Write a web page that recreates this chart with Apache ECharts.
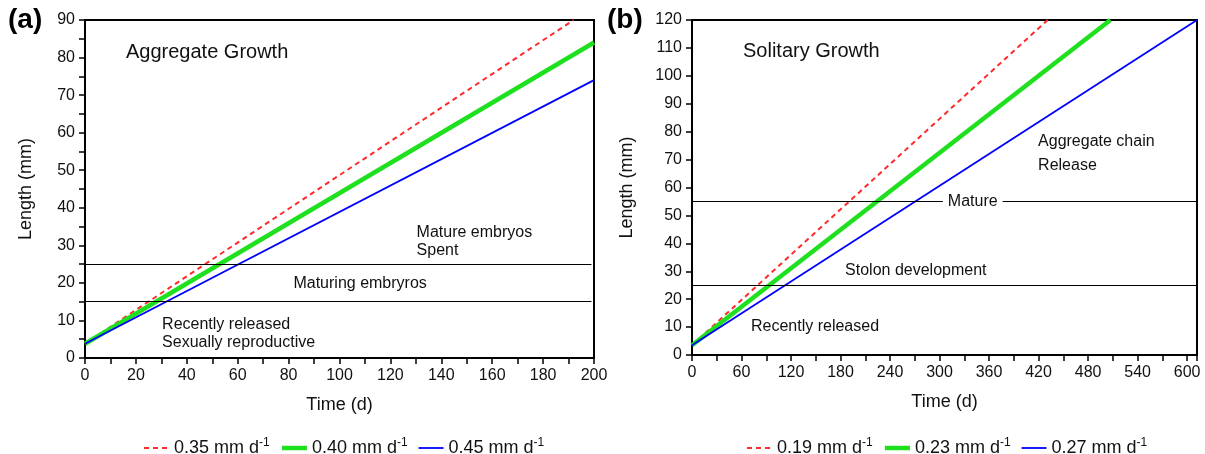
<!DOCTYPE html>
<html>
<head>
<meta charset="utf-8">
<script src="https://cdn.jsdelivr.net/npm/echarts@6/dist/echarts.min.js"></script>
<style>
html,body{margin:0;padding:0;background:#fff;}
#chart{width:1205px;height:454px;}
</style>
</head>
<body>
<div id="chart"></div>
<script>
// ---- Data ----
// Panel (a) Aggregate growth: [time (d), length (mm)]
const aggRedDashed = [[0, 3.8], [192, 90]];
const aggGreen     = [[0, 3.8], [200, 84]];
const aggBlue      = [[0, 3.8], [200, 74]];
const aggRates     = ['0.35', '0.40', '0.45'];
const aggThresholds = [15, 25];
// Panel (b) Solitary growth
const solRedDashed = [[0, 3.5], [431, 120]];
const solGreen     = [[0, 3.5], [507, 120]];
const solBlue      = [[0, 3.5], [612, 120]];
const solRates     = ['0.19', '0.23', '0.27'];
const solThresholds = [25, 55];
// Annotations: [text, x, y] in data units (left aligned, vertically centred)
const aggNotes = [
  ['Mature embryos', 130.3, 33.5],
  ['Spent', 130.3, 28.5],
  ['Maturing embryros', 81.9, 19.9],
  ['Recently released', 30.3, 8.8],
  ['Sexually reproductive', 30.3, 4.0]
];
const aggTitle = ['Aggregate Growth', 16.1, 81.4];
const solNotes = [
  ['Aggregate chain', 419.4, 76.3],
  ['Release', 419.4, 67.7],
  ['Stolon development', 185.5, 30.1],
  ['Recently released', 71.5, 10.0]
];
const solTitle = ['Solitary Growth', 61.8, 108.6];
const solMatureLabel = ['Mature', 304, 55];

const FONT = '"Liberation Sans", Arial, Helvetica, sans-serif';
const RED = '#ff2a2a', GREEN = '#1ee01e', BLUE = '#0000ff';
const STYLES = [
  {color: RED, width: 2, type: [5, 4]},
  {color: GREEN, width: 4.5, type: 'solid'},
  {color: BLUE, width: 1.8, type: 'solid'}
];

const chart = echarts.init(document.getElementById('chart'), null, {renderer: 'canvas'});

function xAxisDef(gridIndex, max, interval) {
  return {
    type: 'value', gridIndex, min: 0, max, interval,
    name: 'Time (d)', nameLocation: 'middle', nameGap: 38,
    nameTextStyle: {fontFamily: FONT, fontSize: 18, color: '#111'},
    axisLine: {show: true, onZero: false, lineStyle: {color: '#000', width: 2}},
    axisTick: {show: true, inside: false, length: 6, lineStyle: {color: '#000', width: 1.5}},
    minorTick: {show: true, splitNumber: 2, length: 6, lineStyle: {color: '#000', width: 1.5}},
    axisLabel: {fontFamily: FONT, fontSize: 16, color: '#111', margin: 10, showMaxLabel: max % interval === 0},
    splitLine: {show: false}
  };
}
function yAxisDef(gridIndex, max, interval, minor, nameGap) {
  return {
    type: 'value', gridIndex, min: 0, max, interval,
    name: 'Length (mm)', nameLocation: 'middle', nameGap,
    nameTextStyle: {fontFamily: FONT, fontSize: 18, color: '#111'},
    axisLine: {show: true, onZero: false, lineStyle: {color: '#000', width: 2}},
    axisTick: {show: true, inside: false, length: 6, lineStyle: {color: '#000', width: 1.5}},
    minorTick: {show: minor, splitNumber: 2, length: 6, lineStyle: {color: '#000', width: 1.5}},
    axisLabel: {fontFamily: FONT, fontSize: 16, color: '#111', margin: 10},
    splitLine: {show: false}
  };
}
function lineSeries(name, data, st, xi) {
  return {
    name, type: 'line', data, xAxisIndex: xi, yAxisIndex: xi,
    symbol: 'none', silent: true, animation: false, clip: true,
    lineStyle: {color: st.color, width: st.width, type: st.type},
    itemStyle: {color: st.color}
  };
}
function thresholdSeries(values, xi, xmax) {
  return {
    type: 'line', xAxisIndex: xi, yAxisIndex: xi, data: [], silent: true, animation: false,
    markLine: {
      symbol: 'none', silent: true, animation: false,
      label: {show: false},
      lineStyle: {color: '#000', width: 1, type: 'solid'},
      data: values.map(v => [{coord: [0, v]}, {coord: [xmax, v]}])
    }
  };
}
const fmtLegend = n => n + ' mm d{sup|-1}';
const legendText = {
  fontFamily: FONT, fontSize: 18, color: '#111',
  rich: {sup: {fontFamily: FONT, fontSize: 12, color: '#111', verticalAlign: 'top', padding: [0, 0, 10, 0]}}
};
const legendCommon = {
  top: 432, itemWidth: 25, itemHeight: 14, itemGap: 10,
  formatter: fmtLegend, textStyle: legendText,
  itemStyle: {opacity: 0, borderWidth: 0}
};
const legendData = rates => rates.map((r, i) => ({
  name: r,
  lineStyle: {color: STYLES[i].color, width: STYLES[i].width, type: STYLES[i].type}
}));

const option = {
  backgroundColor: '#fff',
  animation: false,
  grid: [
    {left: 85, top: 20, width: 509, height: 338, show: true, borderColor: '#000', borderWidth: 2, backgroundColor: 'transparent'},
    {left: 692, top: 20, width: 505, height: 335, show: true, borderColor: '#000', borderWidth: 2, backgroundColor: 'transparent'}
  ],
  xAxis: [xAxisDef(0, 200, 20), xAxisDef(1, 612, 60)],
  yAxis: [yAxisDef(0, 90, 10, true, 50), yAxisDef(1, 120, 10, false, 56)],
  legend: [
    Object.assign({data: legendData(aggRates), left: 138}, legendCommon),
    Object.assign({data: legendData(solRates), left: 741}, legendCommon)
  ],
  series: [
    thresholdSeries(aggThresholds, 0, 199),
    thresholdSeries(solThresholds, 1, 612),
    lineSeries(aggRates[0], aggRedDashed, STYLES[0], 0),
    lineSeries(aggRates[1], aggGreen, STYLES[1], 0),
    lineSeries(aggRates[2], aggBlue, STYLES[2], 0),
    lineSeries(solRates[0], solRedDashed, STYLES[0], 1),
    lineSeries(solRates[1], solGreen, STYLES[1], 1),
    lineSeries(solRates[2], solBlue, STYLES[2], 1)
  ]
};
chart.setOption(option);

// Place text annotations using the chart's own scales
const graphics = [];
function addText(note, gi, size, extra) {
  const p = chart.convertToPixel({gridIndex: gi}, [note[1], note[2]]);
  graphics.push({
    type: 'text', x: p[0], y: p[1], silent: true, z: 100,
    style: Object.assign({text: note[0], fontFamily: FONT, fontSize: size, fill: '#111',
      textAlign: 'left', textVerticalAlign: 'middle'}, extra || {})
  });
}
aggNotes.forEach(n => addText(n, 0, 16));
solNotes.forEach(n => addText(n, 1, 16));
addText(aggTitle, 0, 20);
addText(solTitle, 1, 20);
addText(solMatureLabel, 1, 16, {backgroundColor: '#fff', padding: [0, 5, 0, 5]});
graphics.push({type: 'text', left: 8, top: 6, silent: true,
  style: {text: '(a)', fontFamily: FONT, fontSize: 28, fontWeight: 'bold', fill: '#000'}});
graphics.push({type: 'text', left: 607, top: 6, silent: true,
  style: {text: '(b)', fontFamily: FONT, fontSize: 28, fontWeight: 'bold', fill: '#000'}});
chart.setOption({graphic: graphics});
</script>
</body>
</html>
